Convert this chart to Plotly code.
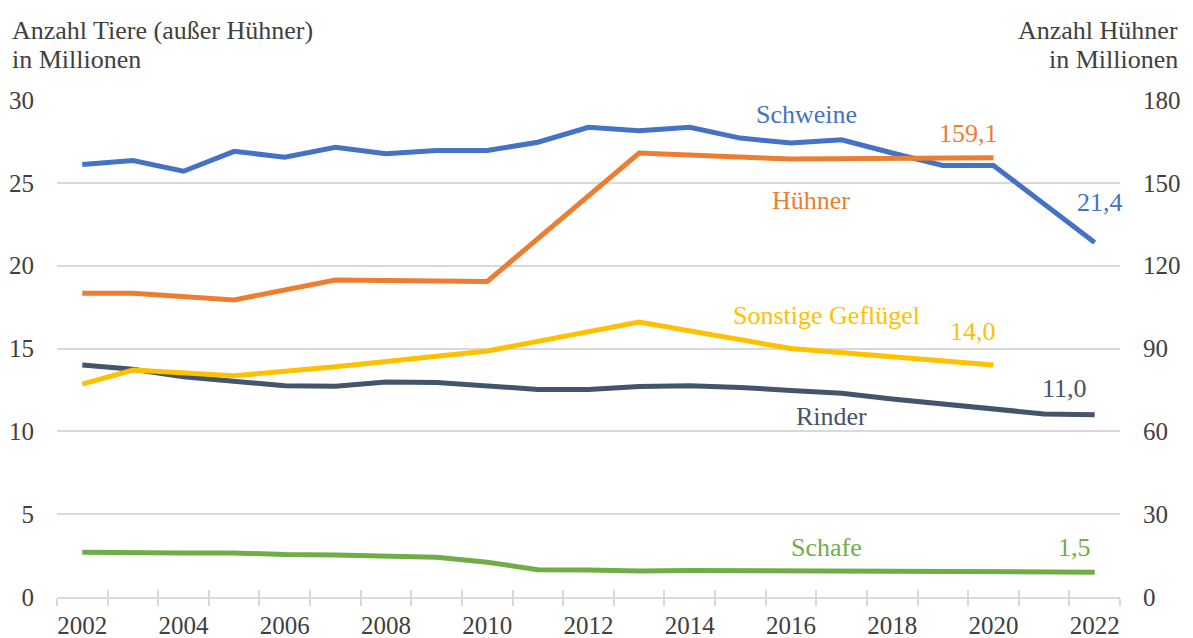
import plotly.graph_objects as go

years = list(range(2002, 2023))
schweine = [26.1, 26.35, 25.7, 26.9, 26.55, 27.15, 26.75, 26.95, 26.95, 27.45, 28.35, 28.15, 28.35, 27.7, 27.4, 27.6, 26.8, 26.05, 26.05, 23.7, 21.4]
rinder = [14.0, 13.75, 13.3, 13.0, 12.75, 12.72, 12.98, 12.95, 12.72, 12.53, 12.52, 12.7, 12.75, 12.65, 12.47, 12.3, 11.95, 11.65, 11.35, 11.05, 11.0]
schafe = [2.7, 2.65, 2.66, 2.66, 2.56, 2.54, 2.45, 2.4, 2.1, 1.65, 1.63, 1.57, 1.6, 1.58, 1.57, 1.58, 1.57, 1.55, 1.48, 1.5, 1.5]
gefluegel = [12.85, 13.7, None, 13.35, None, 13.9, None, None, 14.85, None, None, 16.6, None, None, 15.0, None, None, None, 14.0, None, None]
huehner = [110.0, 110.0, None, 107.6, None, 114.8, None, None, 114.3, None, None, 160.8, None, None, 158.6, None, None, None, 159.1, None, None]

label_years = [2002, 2004, 2006, 2008, 2010, 2012, 2014, 2016, 2018, 2020, 2022]
left_ticks = [0, 5, 10, 15, 20, 25, 30]
right_ticks = [0, 30, 60, 90, 120, 150, 180]

C_BLUE = "#4472C4"
C_ORANGE = "#ED7D31"
C_YELLOW = "#FFC000"
C_DARK = "#44546A"
C_GREEN = "#70AD47"
TXT = "#404040"
GRID = "#D9D9D9"
FONT = "Liberation Serif, 'Times New Roman', 'DejaVu Serif', serif"
FS = 26
FT = 25


def de(v):
    return f"{v:.1f}".replace(".", ",")


def last(vals):
    return [v for v in vals if v is not None][-1]


fig = go.Figure()
series = [
    ("Schafe", schafe, C_GREEN, "y"),
    ("Rinder", rinder, C_DARK, "y"),
    ("Sonstige Geflügel", gefluegel, C_YELLOW, "y"),
    ("Schweine", schweine, C_BLUE, "y"),
    ("Hühner", huehner, C_ORANGE, "y2"),
]
for name, vals, col, ax in series:
    fig.add_trace(go.Scatter(x=years, y=vals, name=name, mode="lines", connectgaps=True,
                             line=dict(color=col, width=5), yaxis=ax, showlegend=False,
                             hoverinfo="x+y+name"))

# empty trace to render crossing (inside) tick marks
fig.add_trace(go.Scatter(x=[], y=[], xaxis="x3", showlegend=False, hoverinfo="skip"))

half_years = [y - 0.5 for y in years] + [years[-1] + 0.5]
xr = [years[0] - 0.5, years[-1] + 0.5]

annotations = []
lab = [
    ("Schweine", 2016.3, 29.15, C_BLUE),
    (de(last(huehner)), 2019.5, 28.0, C_ORANGE),
    ("Hühner", 2016.4, 23.95, C_ORANGE),
    (de(last(schweine)), 2022.1, 23.8, C_BLUE),
    ("Sonstige Geflügel", 2016.7, 17.0, C_YELLOW),
    (de(last(gefluegel)), 2019.6, 16.0, C_YELLOW),
    (de(last(rinder)), 2021.4, 12.6, C_DARK),
    ("Rinder", 2016.8, 10.9, C_DARK),
    ("Schafe", 2016.7, 3.0, C_GREEN),
    (de(last(schafe)), 2021.6, 3.0, C_GREEN),
]
for t, x, y, c in lab:
    annotations.append(dict(text=t, x=x, y=y, xref="x", yref="y", showarrow=False,
                            font=dict(family=FONT, size=FS, color=c), xanchor="center", yanchor="middle"))

titles = [
    ("Anzahl Tiere (außer Hühner)", -0.0442, 1.139, "left"),
    ("in Millionen", -0.0442, 1.082, "left"),
    ("Anzahl Hühner", 1.0565, 1.139, "right"),
    ("in Millionen", 1.0565, 1.082, "right"),
]
for t, x, y, anc in titles:
    annotations.append(dict(text=t, xref="paper", yref="paper", x=x, y=y, xanchor=anc, yanchor="middle",
                            showarrow=False, font=dict(family=FONT, size=FS, color=TXT)))

fig.update_layout(
    width=1193, height=638,
    margin=dict(l=57, r=73, t=100, b=41),
    paper_bgcolor="white", plot_bgcolor="white",
    font=dict(family=FONT, size=FT, color=TXT),
    xaxis=dict(range=xr, tickmode="array", tickvals=label_years, ticktext=[str(y) for y in label_years],
               ticks="", showgrid=False, zeroline=False, showline=True, linecolor=GRID, linewidth=1.5,
               ticklabelstandoff=5, automargin=False,
               minor=dict(tickmode="array", tickvals=half_years, ticks="outside", ticklen=7,
                          tickcolor=GRID, tickwidth=1.5, showgrid=False)),
    xaxis3=dict(range=xr, overlaying="x", anchor="y", side="bottom", tickmode="array", tickvals=half_years,
                ticks="inside", ticklen=7, tickcolor=GRID, tickwidth=1.5, showticklabels=False,
                showgrid=False, zeroline=False, showline=False, automargin=False),
    yaxis=dict(range=[0, 30], tickmode="array", tickvals=left_ticks, showgrid=True, gridcolor=GRID,
               gridwidth=1.5, zeroline=False, showline=False, ticks="", ticklabelstandoff=22,
               automargin=False),
    yaxis2=dict(range=[0, 180], tickmode="array", tickvals=right_ticks, overlaying="y", side="right",
                showgrid=False, zeroline=False, showline=False, ticks="", ticklabelstandoff=22,
                automargin=False),
    annotations=annotations,
)

fig.write_html("out.html", config={"displayModeBar": False},
               post_script="document.body.style.margin='0';document.body.style.overflow='hidden';")
